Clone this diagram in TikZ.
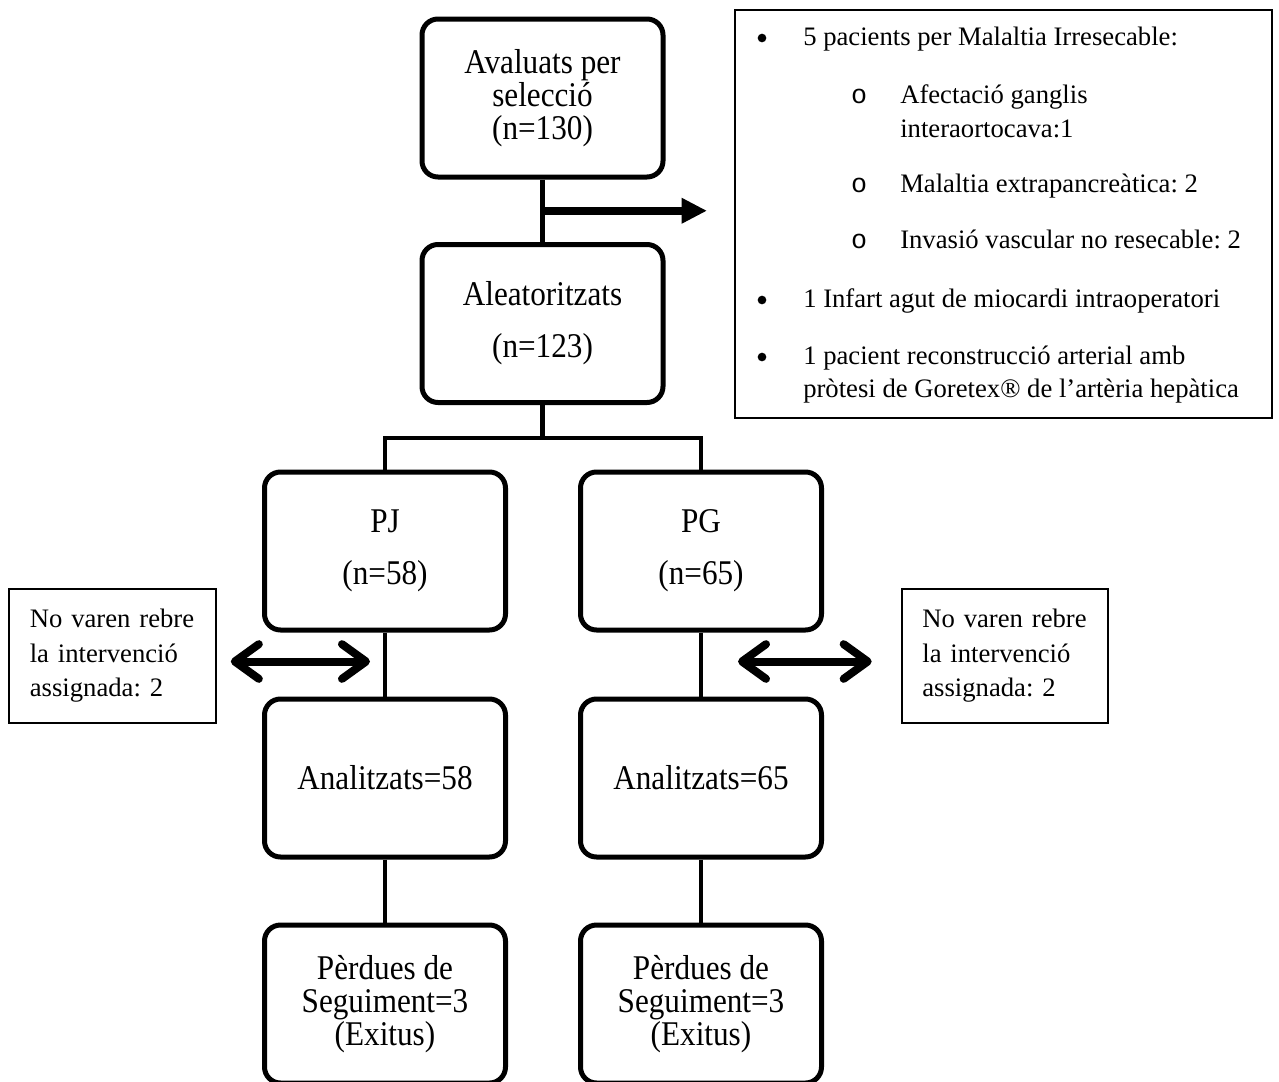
\documentclass[tikz,border=0pt]{standalone}
\usepackage{fontspec}
\setmainfont{Liberation Serif}
\newfontfamily\boxfont[FakeStretch=0.9]{Liberation Serif}
\newfontfamily\subbulletfont{Liberation Mono}
\usetikzlibrary{arrows.meta,calc}
\frenchspacing
\begin{document}
\begin{tikzpicture}[x=0.75pt,y=-0.75pt,
  mainbox/.style={draw, line width=3.75pt, rounded corners=12pt,
    minimum width=180.75pt, minimum height=118.5pt, inner sep=0pt,
    align=center, font=\boxfont\fontsize{26}{24.75}\selectfont},
  twoline/.style={font=\boxfont\fontsize{26}{39}\selectfont},
  sidebox/.style={draw, line width=1.5pt, minimum width=155pt,
    minimum height=100pt, text width=124pt, align=left, inner sep=0pt,
    font=\fontsize{20}{25.9}\selectfont},
  exbox/.style={draw, line width=1.5pt, minimum width=402.75pt,
    minimum height=306pt, inner sep=0pt},
  exline/.style={anchor=base west, inner sep=0pt, font=\fontsize{20}{24}\selectfont},
  bulletdot/.style={circle, fill, inner sep=0pt, minimum size=6.5pt},
  subbullet/.style={anchor=base, inner sep=0pt, font=\subbulletfont\fontsize{20}{24}\selectfont},
  conn/.style={line width=3.5pt},
  thickarrow/.style={line width=6pt, -{Triangle[length=19pt,width=18pt]}},
  dblarrow/.style={line width=6pt, line cap=round,
    {Straight Barb[length=18pt,width=26pt,line cap=round,line join=round]}-{Straight Barb[length=18pt,width=26pt,line cap=round,line join=round]}}
]
\useasboundingbox (0,0) rectangle (1279,1082);
\fill[white] (0,0) rectangle (1279,1082);
\clip (0,0) rectangle (1279,1082);

% main boxes
\node[mainbox] (b1) at (542.5,98) {Avaluats per\\selecció\\(n=130)};
\node[mainbox,twoline] (b2) at (542.5,323.5) {Aleatoritzats\\(n=123)};
\node[mainbox,twoline] (pj) at (385,551) {PJ\\(n=58)};
\node[mainbox,twoline] (pg) at (701,551) {PG\\(n=65)};
\node[mainbox] (aj) at (385,778) {Analitzats=58};
\node[mainbox] (ag) at (701,778) {Analitzats=65};
\node[mainbox] (lj) at (385,1004) {Pèrdues de\\Seguiment=3\\(Exitus)};
\node[mainbox] (lg) at (701,1004) {Pèrdues de\\Seguiment=3\\(Exitus)};

% side boxes
\node[sidebox] (nl) at (112.5,656) {No varen rebre\\la intervenció\\assignada: 2};
\node[sidebox] (nr) at (1005,656) {No varen rebre\\la intervenció\\assignada: 2};

% exclusion box
\node[exbox] (ex) at (1003.5,214) {};
\node[bulletdot] (eb1) at (762,38) {};
\node[exline] (e1) at (803,45) {5 pacients per Malaltia Irresecable:};
\node[subbullet] (eo1) at (859,103) {o};
\node[exline] (e2) at (900,103) {Afectació ganglis};
\node[exline] (e3) at (900,137) {interaortocava:1};
\node[subbullet] (eo2) at (859,192) {o};
\node[exline] (e4) at (900,192) {Malaltia extrapancreàtica: 2};
\node[subbullet] (eo3) at (859,248) {o};
\node[exline] (e5) at (900,248) {Invasió vascular no resecable: 2};
\node[bulletdot] (eb2) at (762,300) {};
\node[exline] (e6) at (803,307) {1 Infart agut de miocardi intraoperatori};
\node[bulletdot] (eb3) at (762,357) {};
\node[exline] (e7) at (803,364) {1 pacient reconstrucció arterial amb};
\node[exline] (e8) at (803,397) {pròtesi de Goretex® de l’artèria hepàtica};

% connectors
\draw[conn] (b1.south) -- (b2.north);
\coordinate (tee) at ($(b1.south)!0.5!(b2.north)$);
\coordinate (exarrow) at (707,211);
\draw[thickarrow] (tee) -- (tee -| exarrow);

\coordinate (split) at (542.5,438);
\draw[conn] (b2.south) -- (split);
\draw[conn] (pj.north) |- (split) -| (pg.north);

\draw[conn] (pj.south) -- (aj.north);
\draw[conn] (pg.south) -- (ag.north);
\draw[conn] (aj.south) -- (lj.north);
\draw[conn] (ag.south) -- (lg.north);

\coordinate (jmid) at ($(pj.south)!0.5!(aj.north)+(0,-3)$);
\coordinate (gmid) at ($(pg.south)!0.5!(ag.north)+(0,-3)$);
\coordinate (laL) at ([xshift=10.5pt]nl.east);
\coordinate (raR) at ([xshift=-21.75pt]nr.west);
\draw[dblarrow] (laL |- jmid) -- ([xshift=-11.25pt]jmid);
\draw[dblarrow] ([xshift=27.75pt]gmid) -- (raR |- gmid);
\end{tikzpicture}
\end{document}
